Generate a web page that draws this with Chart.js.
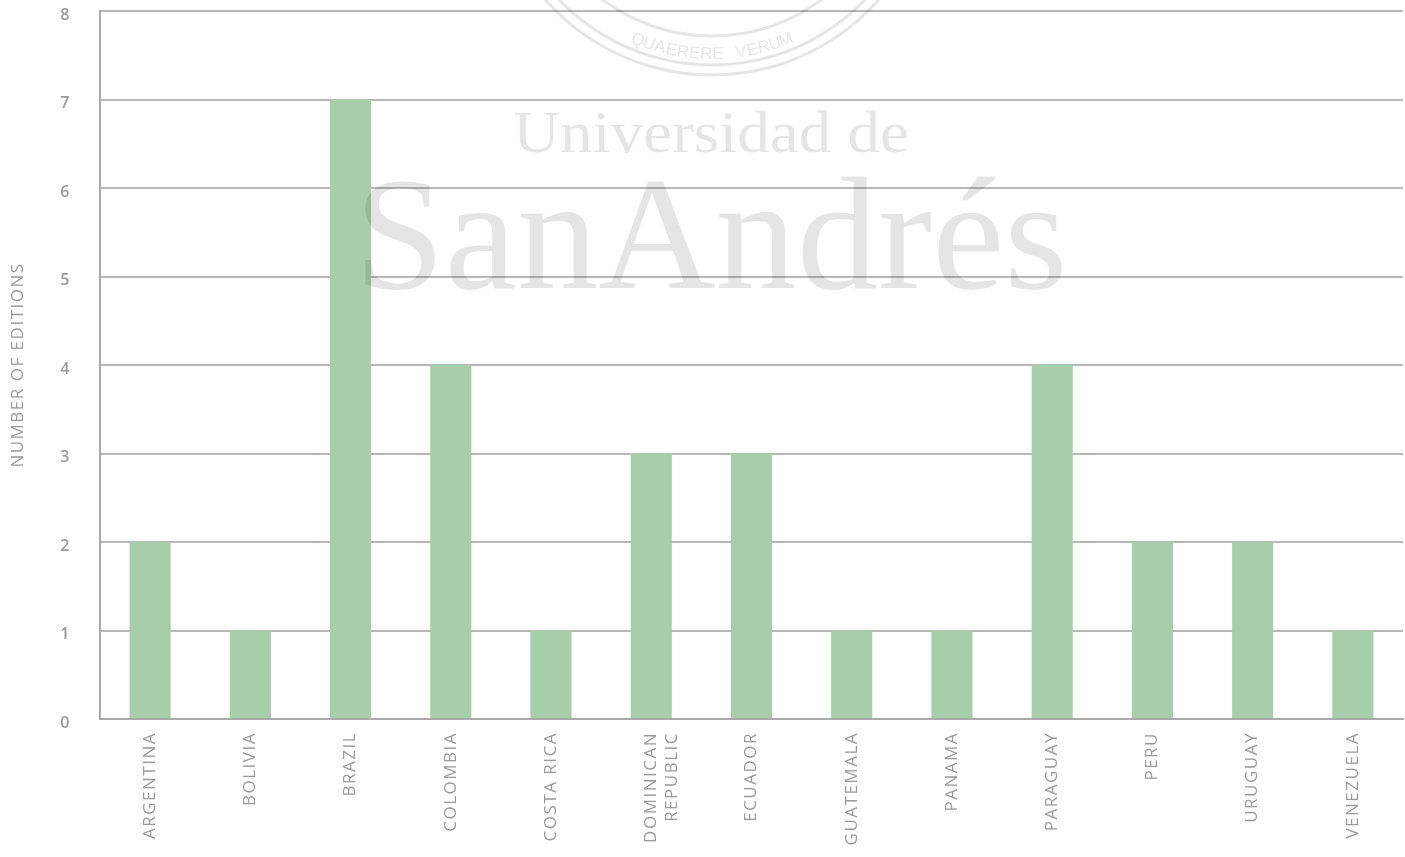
<!DOCTYPE html>
<html>
<head>
<meta charset="utf-8">
<script src="https://cdn.jsdelivr.net/npm/chart.js@4.4.0/dist/chart.umd.min.js"></script>
<style>
  html, body { margin: 0; padding: 0; background: #fff; }
  #wrap { width: 1405px; height: 857px; position: relative; }
</style>
</head>
<body>
<div id="wrap"><canvas id="editions"></canvas></div>
<script>
// data
var countries = ['ARGENTINA', 'BOLIVIA', 'BRAZIL', 'COLOMBIA', 'COSTA RICA', ['DOMINICAN', 'REPUBLIC'],
                 'ECUADOR', 'GUATEMALA', 'PANAMA', 'PARAGUAY', 'PERU', 'URUGUAY', 'VENEZUELA'];
var editions = [2, 1, 7, 4, 1, 3, 3, 1, 1, 4, 2, 2, 1];
var yTicks = [0, 1, 2, 3, 4, 5, 6, 7, 8];

var grey = '#999999';
var font = 'Open Sans';

// spaced out capitals like the original
var spacing = {
  id: 'spacing',
  beforeLayout: function(chart) { chart.ctx.letterSpacing = '1.5px'; },
  beforeDraw: function(chart) { chart.ctx.letterSpacing = '1.5px'; }
};

// university watermark over the plot
var watermark = {
  id: 'watermark',
  afterDraw: function(chart) {
    var ctx = chart.ctx;
    ctx.save();
    ctx.letterSpacing = '0px';
    ctx.fillStyle = 'rgba(0,0,0,0.1)';
    ctx.strokeStyle = 'rgba(0,0,0,0.1)';
    ctx.textAlign = 'center';
    ctx.textBaseline = 'alphabetic';

    ctx.font = '60px "Liberation Serif"';
    var w = ctx.measureText('Universidad de').width;
    ctx.save();
    ctx.translate(711, 152);
    ctx.scale(396 / w, 1);
    ctx.fillText('Universidad de', 0, 0);
    ctx.restore();

    ctx.font = '160px "Liberation Serif"';
    w = ctx.measureText('SanAndrés').width;
    ctx.save();
    ctx.translate(711, 288);
    ctx.scale(713 / w, 1);
    ctx.fillText('SanAndrés', 0, 0);
    ctx.restore();

    // seal rings
    var cx = 712, cy = -147;
    ctx.lineWidth = 3;
    [222, 212, 183].forEach(function(r) {
      ctx.beginPath();
      ctx.arc(cx, cy, r, Math.PI * 0.2, Math.PI * 0.8);
      ctx.stroke();
    });
    // motto around the ring
    var motto = 'QUAERERE VERUM';
    ctx.font = '17px "Liberation Sans"';
    var step = 0.058;
    var start = Math.PI / 2 + step * (motto.length - 1) / 2;
    for (var i = 0; i < motto.length; i++) {
      var a = start - i * step;
      ctx.save();
      ctx.translate(cx + 206 * Math.cos(a), cy + 206 * Math.sin(a));
      ctx.rotate(a - Math.PI / 2);
      ctx.fillText(motto[i], 0, 0);
      ctx.restore();
    }
    ctx.restore();
  }
};

var ctx = document.getElementById('editions').getContext('2d');
var chart = new Chart(ctx, {
  type: 'bar',
  data: {
    labels: countries,
    datasets: [{
      label: 'Number of editions',
      data: editions,
      backgroundColor: '#a6cea9',
      borderWidth: 0,
      barPercentage: 0.41,
      categoryPercentage: 1
    }]
  },
  plugins: [spacing, watermark],
  options: {
    responsive: true,
    maintainAspectRatio: false,
    animation: false,
    layout: { padding: { top: 11, right: 2, left: 0, bottom: 0 } },
    plugins: {
      legend: { display: false },
      tooltip: { enabled: false }
    },
    scales: {
      x: {
        grid: { display: false },
        border: { display: true, color: '#aaaaaa', width: 2 },
        ticks: {
          color: grey,
          font: { family: font, size: 17 },
          minRotation: 90,
          maxRotation: 90,
          padding: 5,
          autoSkip: false
        },
        afterFit: function(scale) { scale.height = 138; }
      },
      y: {
        min: 0,
        max: 8,
        afterBuildTicks: function(scale) {
          scale.ticks = yTicks.map(function(v) { return { value: v }; });
        },
        grid: { color: '#b8b8b8', lineWidth: 2, drawTicks: false },
        border: { display: true, color: '#aaaaaa', width: 2 },
        ticks: {
          color: grey,
          font: { family: font, size: 16, weight: '600' },
          padding: 29,
          labelOffset: 4
        },
        title: {
          display: true,
          text: 'NUMBER OF EDITIONS',
          color: grey,
          font: { family: font, size: 17 },
          padding: { top: 8, bottom: 0 }
        },
        afterFit: function(scale) {
          scale.width = 100;
          scale.paddingTop = 0;
          scale.paddingBottom = 0;
        }
      }
    }
  }
});
</script>
</body>
</html>
